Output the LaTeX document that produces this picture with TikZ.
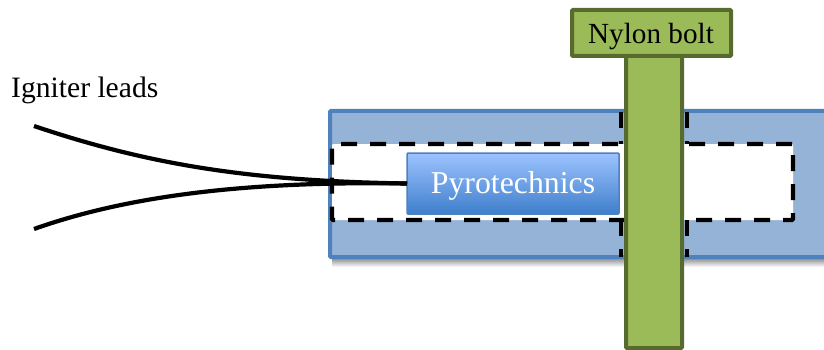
\documentclass[tikz,border=0pt]{standalone}
\usepackage{fontspec}
\setmainfont{Liberation Serif}
\usepackage{xcolor}
\usetikzlibrary{positioning}
\definecolor{housefill}{HTML}{95B3D7}
\definecolor{houseline}{HTML}{4F81BD}
\definecolor{boltfill}{HTML}{9BBB59}
\definecolor{boltline}{HTML}{586B2E}
\definecolor{chargetop}{HTML}{9DC3FF}
\definecolor{chargebot}{HTML}{3F7FCC}
\tikzset{
part/.style={
  rectangle,
  inner sep=0pt,
  outer sep=0pt,
  rounded corners=1pt
},
housing/.style={part,draw=houseline,fill=housefill,line width=4pt,minimum width=520pt,minimum height=146pt},
cavity/.style={part,draw=black,fill=white,line width=4.2pt,dash pattern=on 16pt off 13pt,minimum width=461pt,minimum height=76pt},
charge/.style={part,draw=houseline,line width=1.5pt,top color=chargetop,bottom color=chargebot,text=white,font=\fontsize{31.8}{36}\selectfont,minimum width=212pt,minimum height=61pt},
shank/.style={part,draw=boltline,fill=boltfill,line width=4pt,minimum width=56pt,minimum height=293pt},
head/.style={part,draw=boltline,fill=boltfill,line width=4pt,minimum width=159pt,minimum height=46pt},
lead/.style={black,line width=4.2pt},
neck/.style={black,line width=4.2pt,dash pattern=on 16pt off 13pt},
}
\begin{document}
\begin{tikzpicture}[x=1pt,y=-1pt]
\clip (0,0) rectangle (824,350);
% the case
\shade[top color=black!45,bottom color=white] (332,258) rectangle (824,267);
\node (case) [housing] at (590,184) {};
\node (hollow) [cavity] at (562.5,182) {};
% the neck around the bolt
\coordinate (necka) at (621,112);
\coordinate (neckb) at (687,112);
\coordinate (neckc) at (621,257);
\coordinate (neckd) at (687,257);
\draw[neck] (necka) -- (necka |- hollow.north);
\draw[neck] (neckb) -- (neckb |- hollow.north);
\draw[neck] (neckc |- hollow.south) -- (neckc);
\draw[neck] (neckd |- hollow.south) -- (neckd);
% the charge
\node (pyro) [charge] at (513,183.5) {};
\node (pyrotext) [text=white,inner sep=0pt,font=\fontsize{31.8}{36}\selectfont,anchor=base] at (513,193) {Pyrotechnics};
% the bolt
\node (bolt) [shank] at (654,201.5) {};
\node (bolthead) [head] at (651.5,33) {};
\node (headtext) [inner sep=0pt,font=\fontsize{29.2}{35}\selectfont,anchor=base] at (651,44) {Nylon bolt};
% the leads
\node (leads) [inner sep=0pt,font=\fontsize{29.6}{35}\selectfont,anchor=base west] at (11,98) {Igniter leads};
\coordinate (leadup) at (34,126);
\coordinate (leaddown) at (34,229);
\draw[lead] (leadup) .. controls (150,165) and (250,181) .. (pyro.west);
\draw[lead] (leaddown) .. controls (130,195) and (250,181) .. (pyro.west);
\end{tikzpicture}
\end{document}
